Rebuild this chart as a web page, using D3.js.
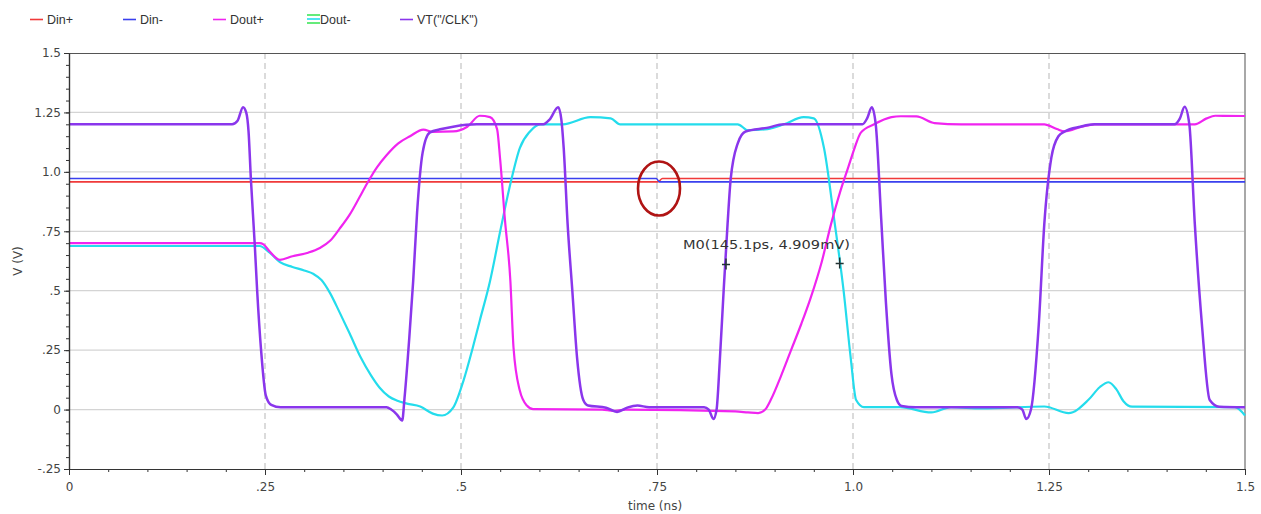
<!DOCTYPE html>
<html>
<head>
<meta charset="utf-8">
<script src="https://cdn.jsdelivr.net/npm/d3@7"></script>
<style>
  body { margin: 0; background: #fff; }
  svg { display: block; }
</style>
</head>
<body>
<div id="chart"></div>
<script>
// names and colours of the five traces, legend order
const seriesNames = ['Din+', 'Din-', 'Dout+', 'Dout-', 'VT("/CLK")'];

const timeTicks = [0, 0.25, 0.5, 0.75, 1.0, 1.25, 1.5];
const timeTickLabels = ['0', '.25', '.5', '.75', '1.0', '1.25', '1.5'];
const voltTicks = [-0.25, 0, 0.25, 0.5, 0.75, 1.0, 1.25, 1.5];
const voltTickLabels = ['-.25', '0', '.25', '.5', '.75', '1.0', '1.25', '1.5'];

// [time (ns), volts]
const dinP = [[0, 0.958], [0.751, 0.958], [0.757, 0.972], [1.5, 0.972]];
const dinM = [[0, 0.972], [0.749, 0.972], [0.753, 0.958], [1.5, 0.958]];

const doutP = [[0, 0.70], [0.243, 0.70], [0.248, 0.695], [0.256, 0.665], [0.269, 0.63], [0.285, 0.645],
  [0.305, 0.66], [0.320, 0.68], [0.333, 0.71], [0.345, 0.76], [0.358, 0.82], [0.370, 0.89], [0.380, 0.95],
  [0.393, 1.02], [0.405, 1.07], [0.42, 1.12], [0.435, 1.15], [0.452, 1.178], [0.464, 1.168], [0.49, 1.17],
  [0.508, 1.19], [0.524, 1.236], [0.537, 1.23], [0.546, 1.18],
  [0.550, 1.05], [0.556, 0.8], [0.563, 0.54], [0.567, 0.26], [0.575, 0.08], [0.584, 0.017], [0.592, 0.002],
  [0.68, 0.0], [0.694, -0.006], [0.71, 0.0], [0.85, -0.008], [0.866, -0.012], [0.879, -0.015], [0.888, 0.0],
  [0.895, 0.04], [0.908, 0.14], [0.921, 0.25], [0.934, 0.36], [0.946, 0.47], [0.960, 0.62], [0.972, 0.78],
  [0.984, 0.92], [0.994, 1.02], [1.002, 1.1], [1.010, 1.165], [1.027, 1.2], [1.049, 1.23],
  [1.061, 1.234], [1.081, 1.233], [1.104, 1.205], [1.138, 1.2], [1.244, 1.2], [1.260, 1.18], [1.270, 1.17],
  [1.292, 1.19], [1.308, 1.2], [1.436, 1.2], [1.451, 1.225], [1.462, 1.236], [1.5, 1.235]];

const doutM = [[0, 0.688], [0.243, 0.688], [0.256, 0.66], [0.269, 0.62], [0.285, 0.60], [0.300, 0.585],
  [0.312, 0.57], [0.322, 0.545], [0.333, 0.49], [0.345, 0.41], [0.358, 0.32], [0.372, 0.22], [0.385, 0.145],
  [0.396, 0.093], [0.408, 0.055], [0.418, 0.038], [0.431, 0.025],
  [0.448, 0.013], [0.464, -0.017], [0.476, -0.025], [0.490, 0.008], [0.503, 0.12], [0.515, 0.26], [0.524, 0.375],
  [0.537, 0.54], [0.550, 0.75], [0.563, 0.95], [0.575, 1.1], [0.588, 1.17], [0.601, 1.2], [0.630, 1.2],
  [0.665, 1.23], [0.691, 1.225], [0.703, 1.2], [0.853, 1.2], [0.866, 1.175], [0.891, 1.18], [0.912, 1.2],
  [0.937, 1.23], [0.95, 1.225], [0.963, 1.1], [0.976, 0.8], [0.988, 0.5], [0.997, 0.22], [1.004, 0.04],
  [1.014, 0.01], [1.06, 0.01], [1.1, -0.012], [1.125, 0.01], [1.164, 0.005], [1.244, 0.013], [1.275, -0.015],
  [1.30, 0.04], [1.315, 0.095], [1.326, 0.115], [1.336, 0.085], [1.345, 0.035], [1.356, 0.012],
  [1.487, 0.01], [1.5, -0.025]];

const clk = [[0, 1.2], [0.208, 1.2], [0.215, 1.215], [0.222, 1.272], [0.226, 1.25], [0.229, 1.17], [0.232, 0.97],
  [0.237, 0.69], [0.240, 0.5], [0.245, 0.25], [0.251, 0.06], [0.258, 0.02], [0.27, 0.01], [0.405, 0.01],
  [0.411, 0.0], [0.418, -0.02], [0.425, -0.046], [0.428, 0.05], [0.434, 0.3], [0.439, 0.54], [0.444, 0.83],
  [0.451, 1.08], [0.460, 1.165], [0.475, 1.18], [0.49, 1.19], [0.52, 1.2], [0.605, 1.2], [0.613, 1.22],
  [0.624, 1.272], [0.628, 1.22], [0.631, 1.1], [0.636, 0.78], [0.642, 0.5], [0.648, 0.22], [0.656, 0.04],
  [0.662, 0.017], [0.685, 0.008], [0.699, -0.01], [0.712, 0.008], [0.725, 0.017], [0.74, 0.01], [0.81, 0.01],
  [0.816, 0.0], [0.822, -0.04], [0.826, 0.0], [0.830, 0.2], [0.835, 0.5], [0.840, 0.78], [0.844, 0.97],
  [0.853, 1.12], [0.863, 1.17], [0.89, 1.185], [0.912, 1.2], [1.012, 1.2], [1.018, 1.225], [1.024, 1.272],
  [1.029, 1.2], [1.036, 0.8], [1.042, 0.45], [1.049, 0.15], [1.056, 0.04], [1.062, 0.015], [1.08, 0.01],
  [1.21, 0.01], [1.216, 0.0], [1.221, -0.04], [1.227, 0.0], [1.237, 0.36], [1.244, 0.78], [1.253, 1.06],
  [1.262, 1.15], [1.27, 1.17], [1.29, 1.19], [1.308, 1.2], [1.41, 1.2], [1.417, 1.225], [1.423, 1.274],
  [1.429, 1.2], [1.436, 0.78], [1.445, 0.36], [1.455, 0.04], [1.467, 0.012], [1.5, 0.01]];

// marker M0 and the circled crossing
const markerLabel = 'M0(145.1ps, 4.909mV)';
const markerPoints = [[0.838, 0.61], [0.983, 0.614]];
const circledPoint = [0.75, 0.93];

const COLORS = {
  'Din+': '#f03a3a',
  'Din-': '#3a40ee',
  'Dout+': '#f024f0',
  'Dout-': '#24dcec',
  'VT("/CLK")': '#8a36ec'
};

const W = 1261, H = 514;
const margin = { left: 69, right: 16, top: 53, bottom: 45 };
const FONT = '"DejaVu Sans", Verdana, sans-serif';

const svg = d3.select('#chart').append('svg')
  .attr('width', W)
  .attr('height', H)
  .attr('xmlns', 'http://www.w3.org/2000/svg');

svg.append('rect').attr('width', W).attr('height', H).attr('fill', '#fff');

const x = d3.scaleLinear().domain([0, 1.5]).range([margin.left, W - margin.right]);
const y = d3.scaleLinear().domain([-0.25, 1.5]).range([H - margin.bottom, margin.top]);

// grid
const grid = svg.append('g');
grid.selectAll('line.h')
  .data(voltTicks.filter(v => v > -0.25 && v < 1.5))
  .enter().append('line')
  .attr('x1', x(0)).attr('x2', x(1.5))
  .attr('y1', d => y(d)).attr('y2', d => y(d))
  .attr('stroke', '#d4d4d4').attr('stroke-width', 1.2);
grid.selectAll('line.v')
  .data(timeTicks.filter(t => t > 0 && t < 1.5))
  .enter().append('line')
  .attr('x1', d => x(d)).attr('x2', d => x(d))
  .attr('y1', y(1.5)).attr('y2', y(-0.25))
  .attr('stroke', '#c4c4c4').attr('stroke-width', 1.2)
  .attr('stroke-dasharray', '6,4');

// frame: right side grey, top dark
svg.append('line')
  .attr('x1', x(1.5)).attr('x2', x(1.5)).attr('y1', y(1.5)).attr('y2', y(-0.25))
  .attr('stroke', '#a8a8a8').attr('stroke-width', 2);
svg.append('line')
  .attr('x1', x(0)).attr('x2', x(1.5)).attr('y1', y(1.5) + 0.5).attr('y2', y(1.5) + 0.5)
  .attr('stroke', '#555').attr('stroke-width', 1);

// traces
const line = d3.line()
  .x(d => x(d[0]))
  .y(d => y(d[1]))
  .curve(d3.curveMonotoneX);

const traces = [
  { name: 'Din+', values: dinP },
  { name: 'Din-', values: dinM },
  { name: 'Dout-', values: doutM },
  { name: 'Dout+', values: doutP },
  { name: 'VT("/CLK")', values: clk }
];

svg.append('g')
  .selectAll('path')
  .data(traces)
  .enter().append('path')
  .attr('d', d => line(d.values))
  .attr('fill', 'none')
  .attr('stroke', d => COLORS[d.name])
  .attr('stroke-width', d => d.name.startsWith('Din') ? 1.6 : (d.name.startsWith('VT') ? 2.5 : 2.2))
  .attr('stroke-linejoin', 'round');

// axes
const minorT = d3.range(0, 1.5001, 0.05);
const minorV = d3.range(-0.25, 1.5001, 0.05);

const xAxis = svg.append('g').attr('transform', 'translate(0,' + y(-0.25) + ')');
xAxis.append('g')
  .call(d3.axisBottom(x).tickValues(minorT).tickSize(3).tickSizeOuter(0).tickFormat(''));
xAxis.append('g')
  .call(d3.axisBottom(x).tickValues(timeTicks).tickSize(6).tickSizeOuter(0).tickPadding(7)
    .tickFormat((d, i) => timeTickLabels[i]));

const yAxis = svg.append('g').attr('transform', 'translate(' + x(0) + ',0)');
yAxis.append('g')
  .call(d3.axisLeft(y).tickValues(minorV).tickSize(3).tickSizeOuter(0).tickFormat(''));
yAxis.append('g')
  .call(d3.axisLeft(y).tickValues(voltTicks).tickSize(5).tickSizeOuter(0).tickPadding(3)
    .tickFormat((d, i) => voltTickLabels[i]));

svg.selectAll('.domain').attr('stroke', '#333').attr('stroke-width', 1.2);
svg.selectAll('.tick line').attr('stroke', '#333');
svg.selectAll('.tick text')
  .attr('font-family', FONT)
  .attr('font-size', 12)
  .attr('fill', '#444');

svg.append('text')
  .attr('x', 655).attr('y', 510)
  .attr('text-anchor', 'middle')
  .attr('font-family', FONT).attr('font-size', 12).attr('fill', '#444')
  .text('time (ns)');
svg.append('text')
  .attr('transform', 'translate(22,' + y(0.625) + ')rotate(-90)')
  .attr('text-anchor', 'middle')
  .attr('font-family', FONT).attr('font-size', 12).attr('fill', '#444')
  .text('V (V)');

// legend
const legendX = [30, 123, 213, 307, 400];
const legend = svg.append('g').attr('font-family', '"Liberation Sans", Arial, sans-serif')
  .attr('font-size', 12.5).attr('fill', '#333');
seriesNames.forEach((name, i) => {
  const lx = legendX[i];
  if (name === 'Dout-') {
    [[15, '#3ee65a'], [19, COLORS['Dout-']], [23, '#3ee65a']].forEach(s => {
      legend.append('line')
        .attr('x1', lx).attr('x2', lx + 13).attr('y1', s[0]).attr('y2', s[0])
        .attr('stroke', s[1]).attr('stroke-width', 1.6);
    });
    legend.append('text').attr('x', lx + 13).attr('y', 24).text(name);
  } else {
    legend.append('line')
      .attr('x1', lx).attr('x2', lx + 13).attr('y1', 19.5).attr('y2', 19.5)
      .attr('stroke', COLORS[name]).attr('stroke-width', 1.6);
    legend.append('text').attr('x', lx + 17).attr('y', 24).text(name);
  }
});

// marker M0
svg.append('text')
  .attr('x', 683).attr('y', 249)
  .attr('font-family', FONT).attr('font-size', 12.5).attr('fill', '#333')
  .attr('textLength', 167).attr('lengthAdjust', 'spacingAndGlyphs')
  .text(markerLabel);
svg.append('g')
  .selectAll('path')
  .data(markerPoints)
  .enter().append('path')
  .attr('d', d => {
    const px = x(d[0]), py = y(d[1]);
    return 'M' + (px - 4) + ',' + py + 'H' + (px + 4) + 'M' + px + ',' + (py - 6) + 'V' + (py + 5);
  })
  .attr('stroke', '#223333').attr('stroke-width', 1.5);

// circled crossing
svg.append('ellipse')
  .attr('cx', x(circledPoint[0]) + 2).attr('cy', y(circledPoint[1]))
  .attr('rx', 21).attr('ry', 27)
  .attr('fill', 'none')
  .attr('stroke', '#b01414').attr('stroke-width', 2.6);
</script>
</body>
</html>
